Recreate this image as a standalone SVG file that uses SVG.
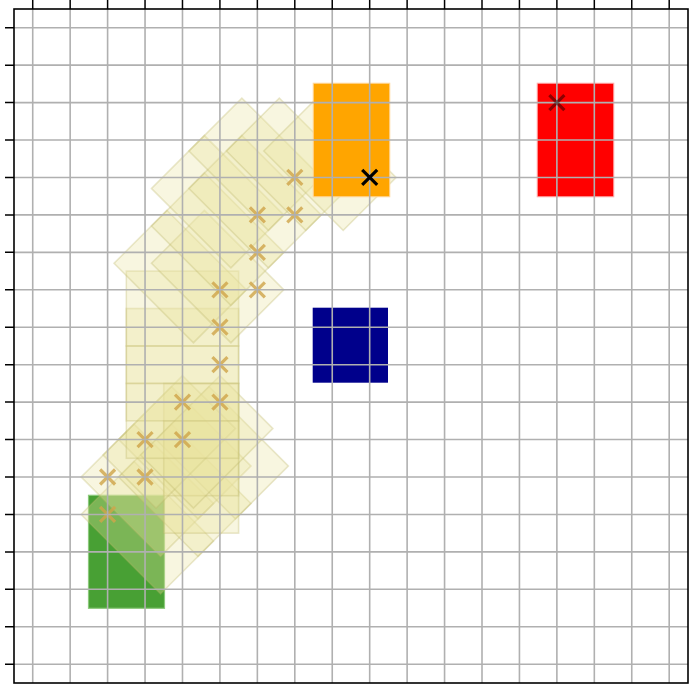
<svg xmlns="http://www.w3.org/2000/svg" xmlns:xlink="http://www.w3.org/1999/xlink" width="695" height="688" viewBox="0 0 695 688">
<style>
.pose{fill:#EAE2A0;fill-opacity:0.32;stroke:#BDB76B;stroke-opacity:0.32;stroke-width:1.6}
.pm{fill:none;stroke:#CFA54A;stroke-opacity:0.82;stroke-width:3.2}
.grid{fill:none;stroke:#b0b0b0;stroke-width:1.6}
.axis{fill:none;stroke:#000;stroke-width:1.6}
.tick{fill:none;stroke:#000;stroke-width:1.5}
</style>
<defs>
<rect id="p" x="-18.72" y="-18.72" width="74.88" height="112.32"/>
<path id="x" d="M-7.5,-7.5L7.5,7.5M-7.5,7.5L7.5,-7.5"/>
</defs>
<rect x="0" y="0" width="695" height="688" fill="#fff"/>
<g id="start"><rect x="88.5" y="495.3" width="76" height="113" fill="#48A034" stroke="#8CC97C" stroke-width="1.2"/></g>
<g id="path-poses" class="pose">
<use xlink:href="#p" transform="translate(107.60,514.44) rotate(-45)"/>
<use xlink:href="#p" transform="translate(107.60,477.00) rotate(-45)"/>
<use xlink:href="#p" transform="translate(145.04,477.00) rotate(-45)"/>
<use xlink:href="#p" transform="translate(145.04,439.56) rotate(-45)"/>
<use xlink:href="#p" transform="translate(182.48,439.56) rotate(-45)"/>
<use xlink:href="#p" transform="translate(182.48,439.56)"/>
<use xlink:href="#p" transform="translate(182.48,402.12)"/>
<use xlink:href="#p" transform="translate(182.48,402.12) rotate(45)"/>
<use xlink:href="#p" transform="translate(219.92,402.12) rotate(45)"/>
<use xlink:href="#p" transform="translate(219.92,402.12) rotate(90)"/>
<use xlink:href="#p" transform="translate(219.92,364.68) rotate(90)"/>
<use xlink:href="#p" transform="translate(219.92,327.24) rotate(90)"/>
<use xlink:href="#p" transform="translate(219.92,289.80) rotate(90)"/>
<use xlink:href="#p" transform="translate(219.92,289.80) rotate(135)"/>
<use xlink:href="#p" transform="translate(257.36,289.80) rotate(135)"/>
<use xlink:href="#p" transform="translate(257.36,252.36) rotate(135)"/>
<use xlink:href="#p" transform="translate(257.36,214.92) rotate(135)"/>
<use xlink:href="#p" transform="translate(294.80,214.92) rotate(135)"/>
<use xlink:href="#p" transform="translate(294.80,177.48) rotate(135)"/>
<use xlink:href="#p" transform="translate(332.24,177.48) rotate(135)"/>
<use xlink:href="#p" transform="translate(369.68,177.48) rotate(135)"/>
</g>
<g id="path-markers" class="pm">
<use xlink:href="#x" transform="translate(107.60,514.44)"/>
<use xlink:href="#x" transform="translate(107.60,477.00)"/>
<use xlink:href="#x" transform="translate(145.04,477.00)"/>
<use xlink:href="#x" transform="translate(145.04,439.56)"/>
<use xlink:href="#x" transform="translate(182.48,439.56)"/>
<use xlink:href="#x" transform="translate(182.48,402.12)"/>
<use xlink:href="#x" transform="translate(219.92,402.12)"/>
<use xlink:href="#x" transform="translate(219.92,364.68)"/>
<use xlink:href="#x" transform="translate(219.92,327.24)"/>
<use xlink:href="#x" transform="translate(219.92,289.80)"/>
<use xlink:href="#x" transform="translate(257.36,289.80)"/>
<use xlink:href="#x" transform="translate(257.36,252.36)"/>
<use xlink:href="#x" transform="translate(257.36,214.92)"/>
<use xlink:href="#x" transform="translate(294.80,214.92)"/>
<use xlink:href="#x" transform="translate(294.80,177.48)"/>
<use xlink:href="#x" transform="translate(332.24,177.48)"/>
</g>
<g id="goal"><rect x="313.2" y="83.2" width="76.6" height="113.6" fill="#FFA500" stroke="#FFD9A0" stroke-width="1"/></g>
<g id="other"><rect x="537.2" y="83.2" width="76.6" height="113.6" fill="#FF0000" stroke="#FFB0B0" stroke-width="1"/></g>
<g id="obstacle"><rect x="312.7" y="307.7" width="75.3" height="75" fill="#00008B"/></g>
<g id="grid" class="grid">
<path d="M32.72,9V683M70.16,9V683M107.60,9V683M145.04,9V683M182.48,9V683M219.92,9V683M257.36,9V683M294.80,9V683M332.24,9V683M369.68,9V683M407.12,9V683M444.56,9V683M482.00,9V683M519.44,9V683M556.88,9V683M594.32,9V683M631.76,9V683M669.20,9V683"/>
<path d="M14,27.72H688M14,65.16H688M14,102.60H688M14,140.04H688M14,177.48H688M14,214.92H688M14,252.36H688M14,289.80H688M14,327.24H688M14,364.68H688M14,402.12H688M14,439.56H688M14,477.00H688M14,514.44H688M14,551.88H688M14,589.32H688M14,626.76H688M14,664.20H688"/>
</g>
<g id="axes">
<rect class="axis" x="14" y="9" width="674" height="674"/>
<path class="tick" d="M32.72,0V9M70.16,0V9M107.60,0V9M145.04,0V9M182.48,0V9M219.92,0V9M257.36,0V9M294.80,0V9M332.24,0V9M369.68,0V9M407.12,0V9M444.56,0V9M482.00,0V9M519.44,0V9M556.88,0V9M594.32,0V9M631.76,0V9M669.20,0V9"/>
<path class="tick" d="M5,27.72H14M5,65.16H14M5,102.60H14M5,140.04H14M5,177.48H14M5,214.92H14M5,252.36H14M5,289.80H14M5,327.24H14M5,364.68H14M5,402.12H14M5,439.56H14M5,477.00H14M5,514.44H14M5,551.88H14M5,589.32H14M5,626.76H14M5,664.20H14"/>
</g>
<g id="goal-marker"><use xlink:href="#x" transform="translate(369.68,177.48)" fill="none" stroke="#000" stroke-width="3.2"/></g>
<g id="other-marker"><use xlink:href="#x" transform="translate(556.88,102.60)" fill="none" stroke="#000" stroke-opacity="0.45" stroke-width="3.2"/></g>
</svg>
